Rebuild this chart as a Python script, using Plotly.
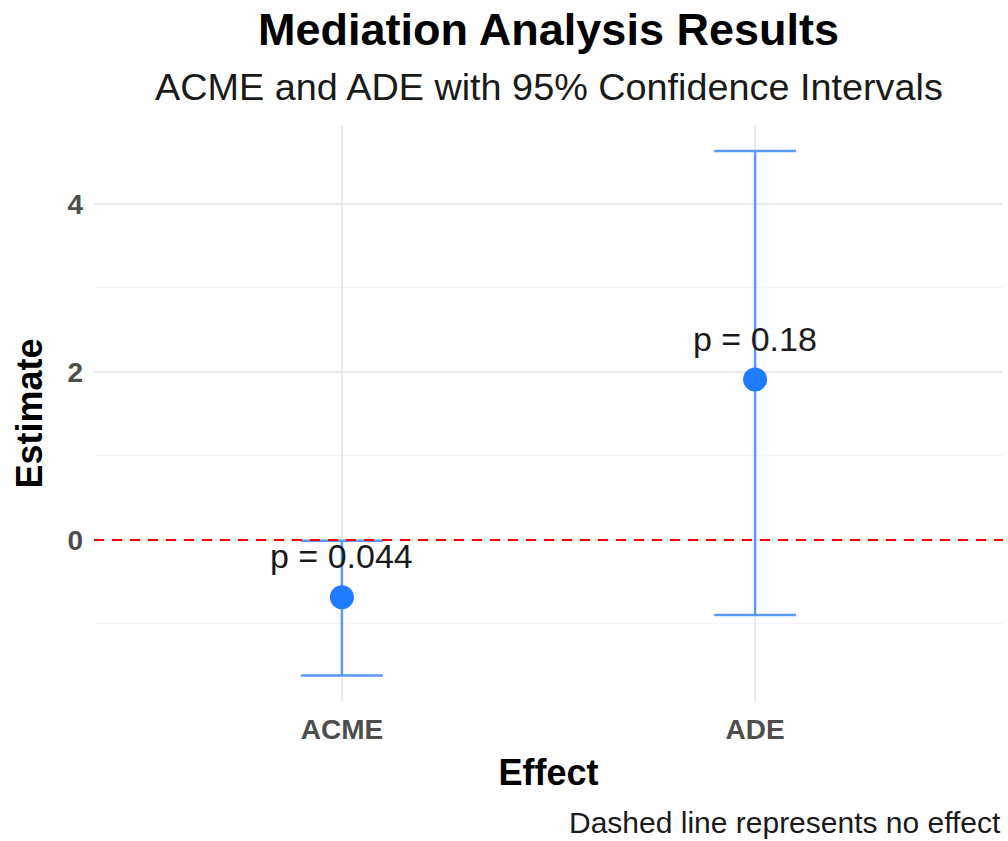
import plotly.graph_objects as go

effects = ["ACME", "ADE"]
estimates = [-0.683, 1.91]
ci_lower = [-1.615, -0.893]
ci_upper = [-0.008, 4.63]
p_labels = ["p = 0.044", "p = 0.18"]
y_ticks = [0, 2, 4]

FONT = "Liberation Sans, Arial, sans-serif"

err_plus = [u - e for u, e in zip(ci_upper, estimates)]
err_minus = [e - l for e, l in zip(estimates, ci_lower)]

fig = go.Figure()
fig.add_trace(go.Scatter(
    x=effects, y=estimates, mode="markers",
    marker=dict(size=24, color="#1f7bff"),
    error_y=dict(type="data", array=err_plus, arrayminus=err_minus,
                 color="#5a9bf5", thickness=2.5, width=41),
    showlegend=False, cliponaxis=False,
))

for eff, est, lab in zip(effects, estimates, p_labels):
    fig.add_annotation(x=eff, y=est, text=lab, showarrow=False,
                       yshift=41, font=dict(family=FONT, size=34, color="#1a1a1a"))

fig.add_hline(y=0, line=dict(color="#ff0000", dash="10px,8px", width=2))

# title, subtitle, caption
fig.add_annotation(xref="paper", yref="paper", x=0.5, y=1.166, xanchor="center",
                   yanchor="middle", text="<b>Mediation Analysis Results</b>",
                   showarrow=False, font=dict(family=FONT, size=45, color="black"))
fig.add_annotation(xref="paper", yref="paper", x=0.5, y=1.0659, xanchor="center",
                   yanchor="middle", text="ACME and ADE with 95% Confidence Intervals",
                   showarrow=False, font=dict(family=FONT, size=37.8, color="#1a1a1a"))
fig.add_annotation(xref="paper", yref="paper", x=1.0, y=-0.2097, xanchor="right",
                   yanchor="middle", text="Dashed line represents no effect",
                   showarrow=False, font=dict(family=FONT, size=30, color="#1a1a1a"))

fig.update_layout(
    width=1008, height=841,
    margin=dict(l=94, r=5, t=125, b=139),
    paper_bgcolor="white", plot_bgcolor="white",
    font=dict(family=FONT),
    xaxis=dict(
        type="category", range=[-0.6, 1.6],
        showgrid=True, gridcolor="#ebebeb", gridwidth=2,
        zeroline=False, showline=False, ticks="",
        ticklabelstandoff=8,
        tickfont=dict(family=FONT, size=28, color="#4d4d4d", weight="bold"),
        title=dict(text="<b>Effect</b>", font=dict(family=FONT, size=36, color="black"), standoff=15),
    ),
    yaxis=dict(
        range=[-1.929, 4.94], tickvals=y_ticks,
        showgrid=True, gridcolor="#ebebeb", gridwidth=2,
        zeroline=False, showline=False, ticks="",
        ticklabelstandoff=10,
        minor=dict(dtick=1, tick0=1, showgrid=True, gridcolor="#f2f2f2", gridwidth=1),
        tickfont=dict(family=FONT, size=28, color="#4d4d4d", weight="bold"),
        title=dict(text="<b>Estimate</b>", font=dict(family=FONT, size=36, color="black"), standoff=13),
    ),
)

fig.write_html("out.html")
